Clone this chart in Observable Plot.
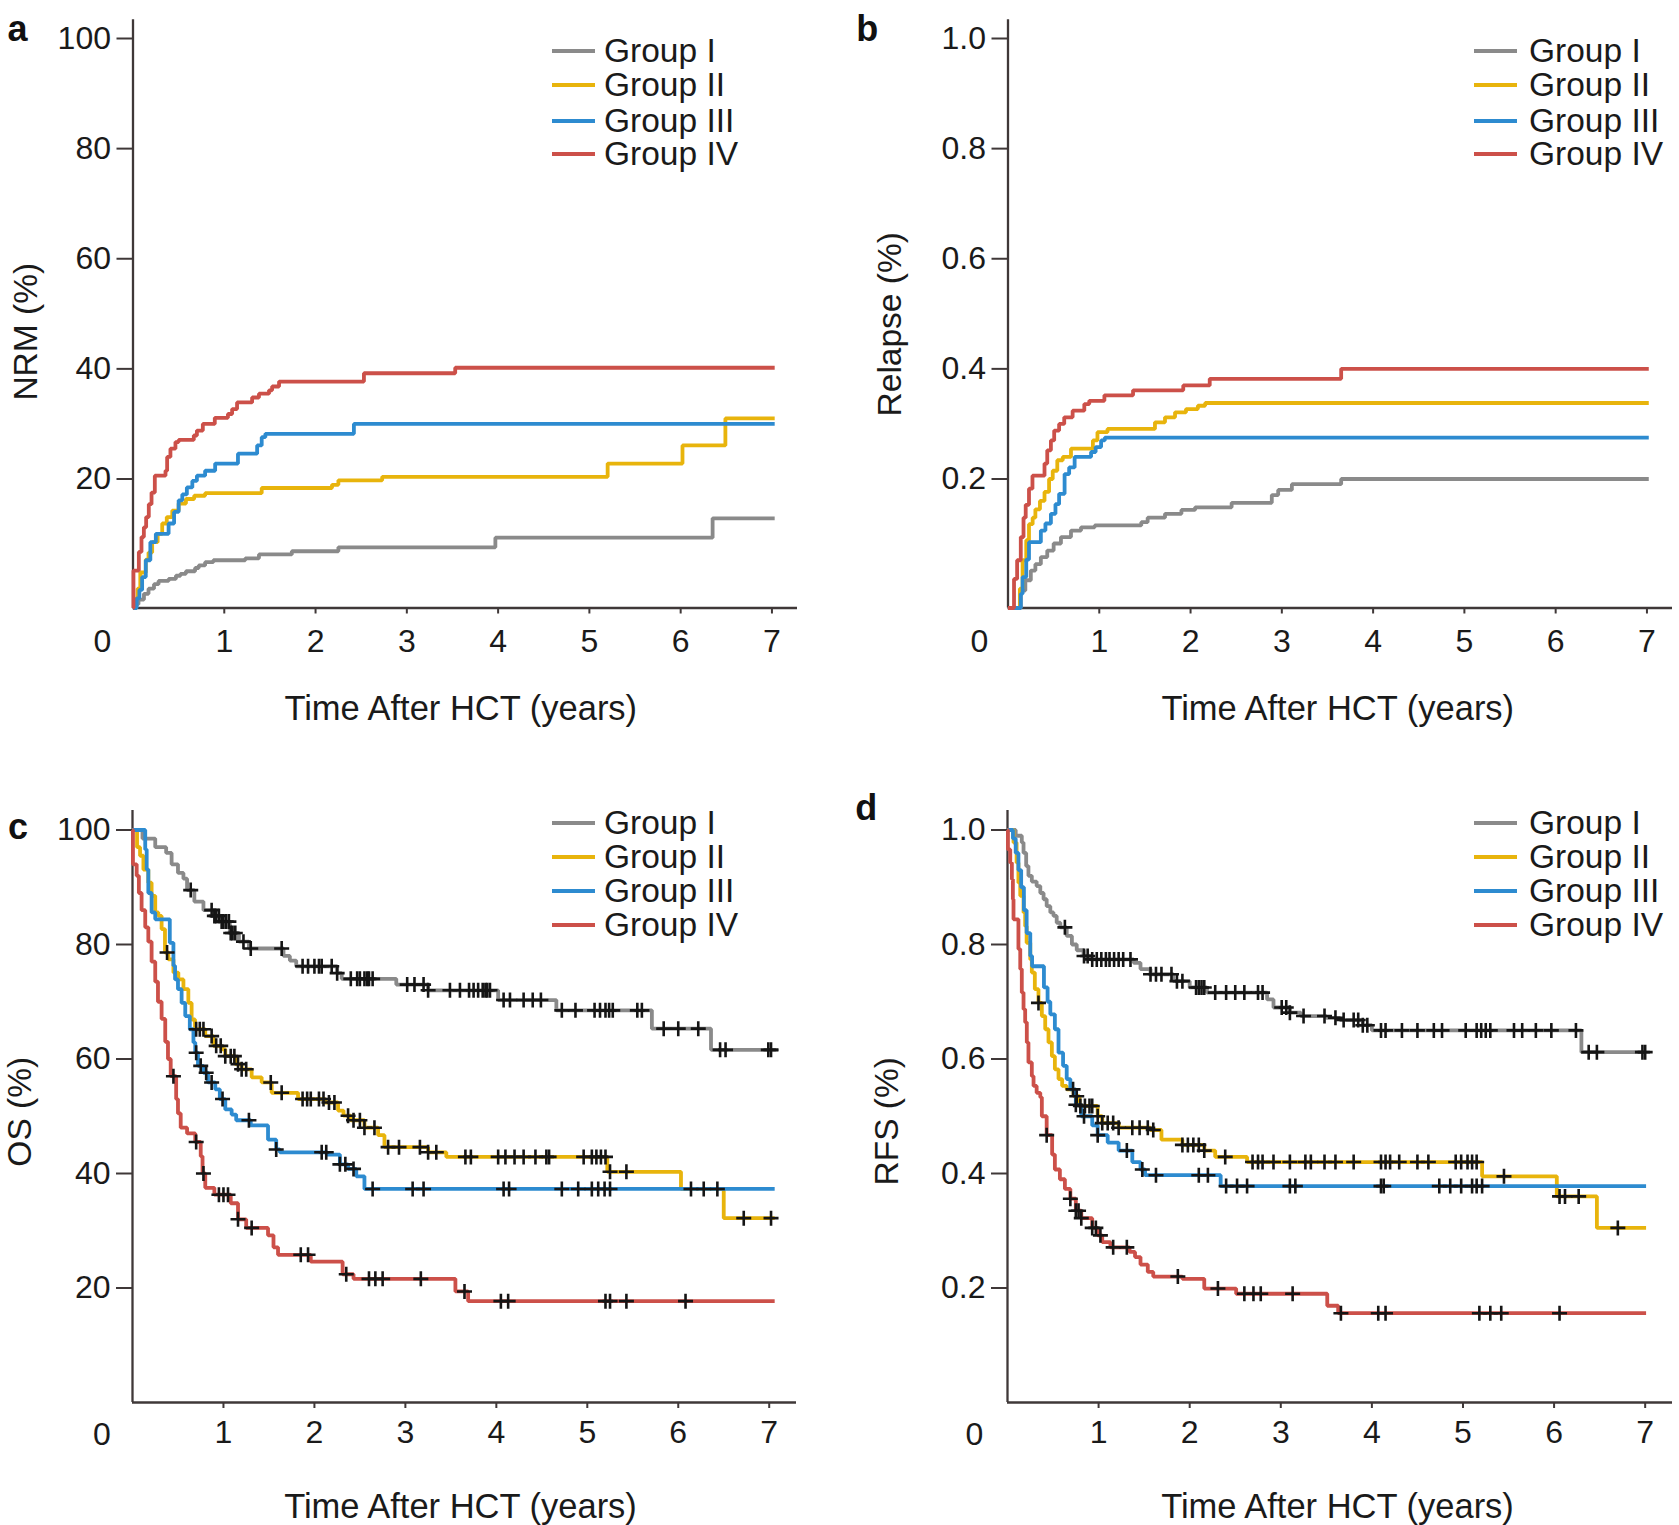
<!DOCTYPE html>
<html>
<head>
<meta charset="utf-8">
<script src="https://cdn.jsdelivr.net/npm/d3@7"></script>
<script src="https://cdn.jsdelivr.net/npm/@observablehq/plot@0.6"></script>
<style>
  html, body { margin: 0; padding: 0; background: #fff; }
  #fig { position: relative; width: 1679px; height: 1525px; font-family: "Liberation Sans", Arial, Helvetica, sans-serif; color: #1a1a1a; }
  .panel { position: absolute; }
  .panel svg { overflow: visible; }
  .sw { position: absolute; height: 4px; }
  .lt { position: absolute; font-size: 33.5px; line-height: 28px; height: 28px; white-space: nowrap; transform: translateY(-50%); }
</style>
</head>
<body>
<div id="fig"></div>
<script>
// ---------- categories, colours, ticks ----------
const groups = ["Group I", "Group II", "Group III", "Group IV"];
const groupColors = ["#8a8a8a", "#e8b40c", "#2d8bd0", "#cc5049"];
const timeTicks = [1, 2, 3, 4, 5, 6, 7];
const pctTicks = [20, 40, 60, 80, 100];
const fracTicks = [0.2, 0.4, 0.6, 0.8, 1.0];
const panelLetters = ["a", "b", "c", "d"];
const yTitles = ["NRM (%)", "Relapse (%)", "OS (%)", "RFS (%)"];
const xTitle = "Time After HCT (years)";

// ---------- (a) NRM, [years, %] ----------
const nrmI = [[0,0],[0.02,0.6],[0.06,1.3],[0.12,2.2],[0.17,3.0],[0.23,3.7],[0.28,4.2],[0.39,4.5],[0.47,5.0],[0.52,5.3],[0.58,5.7],[0.68,6.2],[0.72,6.6],[0.79,7.1],[0.88,7.4],[1.23,7.7],[1.38,8.3],[1.74,8.8],[2.25,9.4],[3.97,10.9],[6.35,13.9],[7.03,13.9]];
const nrmII = [[0,0],[0.03,1.5],[0.05,3],[0.08,5.5],[0.14,7.5],[0.17,8.6],[0.21,10.2],[0.27,11.5],[0.32,13.1],[0.37,14.1],[0.43,15.1],[0.5,16.2],[0.58,16.9],[0.67,17.4],[0.79,17.8],[1.41,18.6],[2.18,19.1],[2.25,19.8],[2.73,20.4],[5.2,22.8],[6.02,26.1],[6.49,31.0],[7.03,31.0]];
const nrmIII = [[0,0],[0.04,1.5],[0.07,2.8],[0.1,4.8],[0.14,7.4],[0.19,10.2],[0.25,11.5],[0.39,13.1],[0.45,14.9],[0.5,16.7],[0.54,17.6],[0.59,18.7],[0.65,19.7],[0.7,20.6],[0.79,21.5],[0.9,22.8],[1.15,24.6],[1.36,26.1],[1.41,27.6],[1.45,28.2],[2.42,30.0],[7.03,30.0]];
const nrmIV = [[0,0],[0.005,5.8],[0.064,8.7],[0.093,11.0],[0.119,12.5],[0.144,14.1],[0.173,16.1],[0.203,17.9],[0.239,20.6],[0.356,21.5],[0.374,24.0],[0.41,25.5],[0.465,26.7],[0.5,27.1],[0.666,27.9],[0.7,28.8],[0.765,30.0],[0.896,31.1],[1.04,31.8],[1.086,32.7],[1.14,33.9],[1.305,34.8],[1.38,35.5],[1.49,36.1],[1.524,36.8],[1.6,37.7],[2.53,39.2],[3.53,40.2],[7.03,40.2]];

// ---------- (b) Relapse, [years, fraction] ----------
const relI = [[0,0],[0.1,0],[0.14,0.027],[0.19,0.043],[0.25,0.058],[0.3,0.068],[0.36,0.079],[0.43,0.089],[0.5,0.1],[0.58,0.11],[0.69,0.12],[0.8,0.125],[0.95,0.128],[1.46,0.133],[1.53,0.14],[1.72,0.146],[1.9,0.152],[2.05,0.156],[2.45,0.163],[2.89,0.175],[2.96,0.183],[3.11,0.192],[3.65,0.2],[7.02,0.2]];
const relII = [[0,0],[0.12,0],[0.13,0.03],[0.16,0.074],[0.2,0.105],[0.23,0.13],[0.27,0.14],[0.3,0.153],[0.35,0.166],[0.4,0.18],[0.45,0.2],[0.49,0.215],[0.54,0.234],[0.6,0.24],[0.69,0.255],[0.93,0.27],[0.98,0.285],[1.09,0.291],[1.61,0.303],[1.72,0.312],[1.83,0.321],[1.95,0.327],[2.08,0.333],[2.16,0.338],[7.02,0.338]];
const relIII = [[0,0],[0.12,0],[0.14,0.022],[0.16,0.048],[0.2,0.075],[0.23,0.102],[0.36,0.12],[0.41,0.131],[0.47,0.146],[0.52,0.161],[0.56,0.177],[0.62,0.209],[0.67,0.221],[0.73,0.24],[0.91,0.249],[0.96,0.258],[1.02,0.27],[1.06,0.275],[7.02,0.275]];
const relIV = [[0,0],[0.06,0],[0.066,0.045],[0.1,0.074],[0.14,0.11],[0.17,0.14],[0.194,0.16],[0.23,0.185],[0.268,0.206],[0.4,0.228],[0.43,0.252],[0.47,0.27],[0.506,0.288],[0.56,0.3],[0.616,0.312],[0.708,0.324],[0.836,0.336],[0.89,0.342],[1.056,0.352],[1.37,0.361],[1.92,0.37],[2.21,0.382],[3.65,0.4],[7.02,0.4]];

// ---------- (c) OS, [years, %] ----------
const osI = [[0,100],[0.1,100],[0.11,98.5],[0.25,97],[0.37,96],[0.43,94],[0.5,92.5],[0.56,91.5],[0.6,89.5],[0.68,87.5],[0.78,86],[0.9,85],[0.96,84],[1.07,82],[1.17,80.5],[1.28,79.3],[1.66,78],[1.73,77.2],[1.8,76.2],[2.25,75],[2.3,74],[2.9,73],[3.25,72],[4.02,70.3],[4.66,68.5],[5.71,65.3],[6.36,61.6],[7.1,61.6]];
const osII = [[0,100],[0.046,100],[0.05,97],[0.083,95.5],[0.12,93.1],[0.174,90.8],[0.21,88.5],[0.25,85.6],[0.284,85.0],[0.32,82.7],[0.357,78.6],[0.394,77.4],[0.45,75.1],[0.504,73.9],[0.56,72.2],[0.614,69.8],[0.65,66.9],[0.687,65.2],[0.8,64.0],[0.89,62.3],[0.98,61.7],[1.02,60.5],[1.13,59.1],[1.2,58.2],[1.31,56.8],[1.42,55.9],[1.53,54.1],[1.82,53.0],[2.12,52.4],[2.26,51.0],[2.32,50.1],[2.4,49.3],[2.55,48.0],[2.7,46.7],[2.77,44.6],[3.25,43.7],[3.45,42.9],[5.22,40.3],[6.03,37.3],[6.5,32.2],[7.06,32.2]];
const osIII = [[0,100],[0.12,100],[0.14,96.6],[0.156,93.1],[0.174,89],[0.21,85.6],[0.25,84.4],[0.41,80.3],[0.45,76.3],[0.468,73.9],[0.5,72.2],[0.54,69.8],[0.58,67.5],[0.63,65.2],[0.67,62.9],[0.69,61.1],[0.72,58.8],[0.78,57.6],[0.83,55.9],[0.91,54.7],[0.96,53.0],[1.02,51.2],[1.09,50.3],[1.14,49.3],[1.3,48.4],[1.49,45.9],[1.58,44.2],[1.62,43.7],[2.14,43.3],[2.28,41.6],[2.37,40.8],[2.46,39.5],[2.55,37.3],[7.06,37.3]];
const osIV = [[0,100],[0.005,94],[0.046,92],[0.07,89],[0.1,86],[0.14,83],[0.174,80.5],[0.21,77],[0.25,73.5],[0.28,70],[0.32,67],[0.36,63],[0.39,60],[0.42,57],[0.48,53],[0.5,50.5],[0.53,48],[0.6,47],[0.69,45.5],[0.75,43],[0.77,40],[0.8,37.5],[0.9,36.3],[1.08,34.8],[1.16,32],[1.25,30.5],[1.49,29.2],[1.55,27.1],[1.6,25.8],[1.96,24.6],[2.31,22.4],[2.43,21.6],[3.55,19.4],[3.69,17.7],[7.06,17.7]];

// ---------- (d) RFS, [years, fraction] ----------
const rfsI = [[0,1],[0.084,1],[0.09,0.99],[0.157,0.978],[0.176,0.96],[0.205,0.937],[0.23,0.92],[0.267,0.91],[0.32,0.902],[0.36,0.89],[0.396,0.879],[0.43,0.867],[0.47,0.856],[0.505,0.85],[0.54,0.838],[0.58,0.83],[0.65,0.815],[0.707,0.8],[0.76,0.79],[0.835,0.78],[0.91,0.774],[1.385,0.768],[1.46,0.757],[1.57,0.748],[1.82,0.736],[2.0,0.725],[2.19,0.716],[2.85,0.704],[2.92,0.69],[3.1,0.681],[3.22,0.675],[3.5,0.672],[3.65,0.668],[3.9,0.659],[4.0,0.65],[6.3,0.612],[7.01,0.612]];
const rfsII = [[0,1],[0.04,1],[0.066,0.978],[0.1,0.943],[0.12,0.908],[0.14,0.885],[0.176,0.856],[0.194,0.832],[0.21,0.803],[0.25,0.774],[0.267,0.751],[0.3,0.722],[0.34,0.698],[0.377,0.675],[0.414,0.652],[0.45,0.629],[0.487,0.605],[0.52,0.582],[0.56,0.565],[0.6,0.553],[0.65,0.547],[0.725,0.535],[0.79,0.518],[0.99,0.5],[1.04,0.488],[1.22,0.48],[1.57,0.476],[1.69,0.459],[1.92,0.45],[2.16,0.44],[2.28,0.429],[2.63,0.42],[5.21,0.395],[6.03,0.36],[6.47,0.305],[7.01,0.305]];
const rfsIII = [[0,1],[0.05,1],[0.06,0.985],[0.09,0.96],[0.12,0.93],[0.15,0.9],[0.18,0.86],[0.21,0.82],[0.25,0.78],[0.27,0.762],[0.4,0.725],[0.44,0.7],[0.47,0.678],[0.52,0.652],[0.56,0.611],[0.61,0.588],[0.65,0.565],[0.69,0.547],[0.75,0.52],[0.81,0.5],[0.93,0.484],[0.99,0.467],[1.1,0.454],[1.22,0.44],[1.37,0.42],[1.46,0.407],[1.51,0.397],[2.34,0.378],[7.01,0.378]];
const rfsIV = [[0,1],[0.005,0.966],[0.03,0.943],[0.048,0.914],[0.059,0.879],[0.066,0.844],[0.12,0.792],[0.14,0.757],[0.157,0.716],[0.176,0.687],[0.194,0.664],[0.212,0.629],[0.23,0.594],[0.267,0.57],[0.286,0.553],[0.32,0.541],[0.36,0.533],[0.377,0.5],[0.43,0.467],[0.49,0.433],[0.52,0.407],[0.575,0.39],[0.63,0.373],[0.69,0.356],[0.75,0.335],[0.81,0.322],[0.93,0.305],[0.99,0.292],[1.04,0.28],[1.13,0.271],[1.34,0.263],[1.4,0.254],[1.46,0.241],[1.54,0.228],[1.6,0.22],[1.92,0.216],[2.16,0.199],[2.51,0.19],[3.51,0.169],[3.63,0.156],[7.01,0.156]];

// ---------- censoring times (years); marks sit on the step curve ----------
const osCensorI = [0.64,0.87,0.9,0.92,0.95,0.98,1.0,1.03,1.06,1.08,1.1,1.13,1.22,1.3,1.64,1.87,1.93,2.0,2.05,2.08,2.19,2.25,2.4,2.47,2.5,2.55,2.58,2.6,2.64,3.02,3.1,3.2,3.25,3.49,3.6,3.7,3.75,3.8,3.85,3.88,3.9,3.93,4.08,4.15,4.3,4.4,4.49,4.72,4.87,5.08,5.14,5.2,5.24,5.28,5.55,5.6,5.84,6.0,6.22,6.46,6.52,6.99,7.02];
const osCensorII = [0.38,0.7,0.74,0.78,0.87,0.92,0.97,1.02,1.08,1.12,1.16,1.2,1.25,1.52,1.64,1.87,1.92,1.96,2.05,2.1,2.16,2.22,2.37,2.43,2.5,2.55,2.66,2.81,2.93,3.16,3.25,3.34,3.66,3.72,4.02,4.1,4.2,4.3,4.43,4.55,4.58,4.96,5.05,5.1,5.15,5.2,5.25,5.43,6.14,6.28,6.43,6.72,7.02];
const osCensorIII = [0.7,0.75,0.81,0.87,0.99,1.28,1.58,2.08,2.13,2.28,2.34,2.43,2.64,3.08,3.2,4.08,4.14,4.72,4.9,5.05,5.12,5.19,5.25];
const osCensorIV = [0.45,0.7,0.78,0.95,1.0,1.05,1.16,1.31,1.85,1.93,2.35,2.6,2.67,2.75,3.17,3.65,4.05,4.13,5.2,5.25,5.43,6.08];
const rfsCensorI = [0.63,0.84,0.88,0.93,0.98,1.03,1.08,1.12,1.17,1.22,1.27,1.35,1.57,1.63,1.69,1.8,1.86,1.92,2.07,2.1,2.13,2.16,2.28,2.4,2.5,2.6,2.75,2.8,3.01,3.06,3.1,3.25,3.48,3.6,3.69,3.8,3.85,3.9,3.95,4.1,4.15,4.33,4.5,4.68,4.77,5.03,5.15,5.2,5.25,5.3,5.56,5.65,5.8,5.97,6.24,6.38,6.47,6.97,7.0];
const rfsCensorII = [0.34,0.72,0.76,0.8,0.85,0.9,0.93,0.99,1.04,1.1,1.16,1.22,1.37,1.45,1.54,1.6,1.92,1.98,2.04,2.1,2.16,2.39,2.69,2.75,2.8,2.92,3.1,3.27,3.33,3.48,3.6,3.8,4.1,4.15,4.2,4.3,4.5,4.62,4.92,4.98,5.05,5.1,5.15,5.45,6.06,6.12,6.27,6.7];
const rfsCensorIII = [0.75,0.84,0.99,1.31,1.48,1.63,2.1,2.2,2.4,2.52,2.63,3.1,3.16,4.1,4.13,4.74,4.86,4.98,5.1,5.15,5.21];
const rfsCensorIV = [0.43,0.69,0.75,0.78,0.81,0.93,0.97,1.02,1.16,1.31,1.87,2.31,2.6,2.7,2.78,3.13,3.66,4.07,4.15,5.18,5.3,5.42,6.06];

// ---------- helpers ----------
function stepValue(curve, t) {
  let v = curve[0][1];
  for (const [ti, vi] of curve) { if (ti <= t) v = vi; else break; }
  return v;
}
const thinPlus = {
  draw(context, size) {
    const r = Math.sqrt(size / Math.PI);
    context.moveTo(-r, 0); context.lineTo(r, 0);
    context.moveTo(0, -r); context.lineTo(0, r);
  }
};
const axisColor = "#3f3838";
// In panels a and b the printed axis gives the 0–20 interval more room than the
// 20–100 intervals (factor ≈ 1.17); reproduce that with a scale transform.
const lowStretch = 1.1715;

const panels = [
  { left: 0,   top: 0,   width: 840, height: 765, mL: 132.5, mR: 43, mT: 38,   mB: 157.5, xMax: 7.28, tickPad: 15,
    frac: false, stretched: true, curves: [nrmI, nrmII, nrmIII, nrmIV], censors: null,
    letterD: [-115.5, -8.6], yTitleD: [-106.5, 8.5], xTitleD: [-4.5, 100.5], zeroD: [-30.5, 34],
    legX: 552, legTextX: 604, legY: [51, 85, 120.5, 154] },
  { left: 840, top: 0,   width: 839, height: 765, mL: 167.5, mR: 7, mT: 38,   mB: 157.5, xMax: 7.28, tickPad: 15,
    frac: true, stretched: true, curves: [relI, relII, relIII, relIV], censors: null,
    letterD: [-140.8, -8.6], yTitleD: [-118, 1], xTitleD: [-2.5, 100.5], zeroD: [-28.5, 34],
    legX: 634, legTextX: 689, legY: [51, 85, 120.5, 154] },
  { left: 0,   top: 765, width: 840, height: 760, mL: 132, mR: 44, mT: 64.5, mB: 123, xMax: 7.3, tickPad: 12,
    frac: false, stretched: false, curves: [osI, osII, osIII, osIV], censors: [osCensorI, osCensorII, osCensorIII, osCensorIV],
    letterD: [-114.5, -2.5], yTitleD: [-112, -4.5], xTitleD: [-4, 104.5], zeroD: [-30.5, 32],
    legX: 552, legTextX: 604, legY: [57.5, 91.5, 126, 159.5] },
  { left: 840, top: 765, width: 839, height: 760, mL: 167, mR: 7, mT: 64.5, mB: 123, xMax: 7.3, tickPad: 12,
    frac: true, stretched: false, curves: [rfsI, rfsII, rfsIII, rfsIV], censors: [rfsCensorI, rfsCensorII, rfsCensorIII, rfsCensorIV],
    letterD: [-141.3, -22], yTitleD: [-120, 5], xTitleD: [-2.5, 104.5], zeroD: [-33, 32],
    legX: 634, legTextX: 689, legY: [57.5, 91.5, 126, 159.5] }
];

const fig = document.getElementById("fig");

panels.forEach((p, idx) => {
  const k = p.frac ? 0.01 : 1;          // value of one percent on this panel's axis
  const top = 100 * k;
  const lineData = p.curves.flatMap((c, i) => c.map(([t, v]) => ({ t, v, g: groups[i] })));
  const censorData = p.censors
    ? p.censors.flatMap((ts, i) => ts.map(t => ({ t, v: stepValue(p.curves[i], t), g: groups[i] })))
    : [];

  let yScale;
  if (p.stretched) {
    const knee = 20 * k;
    const tf = v => (v < knee ? knee + (v - knee) * lowStretch : v);
    yScale = { type: "linear", domain: [tf(0), top], transform: tf };
  } else {
    yScale = { type: "linear", domain: [0, top] };
  }

  const svg = Plot.plot({
    width: p.width,
    height: p.height,
    marginLeft: p.mL, marginRight: p.mR, marginTop: p.mT, marginBottom: p.mB,
    x: { domain: [0, p.xMax] },
    y: yScale,
    color: { domain: groups, range: groupColors },
    style: { fontFamily: '"Liberation Sans", Arial, Helvetica, sans-serif', fontSize: "32px", color: "#1a1a1a", background: "transparent", overflow: "visible" },
    marks: [
      Plot.ruleX([0], { y1: 0, y2: 1.034 * top, stroke: axisColor, strokeWidth: 2.3 }),
      Plot.ruleY([0], { x1: 0, x2: p.xMax, stroke: axisColor, strokeWidth: 2.3 }),
      Plot.axisY({ ticks: (p.frac ? fracTicks : pctTicks), tickFormat: p.frac ? d3.format(".1f") : d3.format("d"),
                   tickSize: 16, tickPadding: 6, fontSize: 32, label: null, stroke: axisColor, strokeWidth: 2, fill: "#1a1a1a" }),
      Plot.axisX({ ticks: timeTicks, tickSize: 6, tickPadding: p.tickPad, fontSize: 32, label: null, stroke: axisColor, strokeWidth: 2, fill: "#1a1a1a" }),
      Plot.text(["0"], { x: () => 0, y: () => 0, text: d => d, dx: p.zeroD[0], dy: p.zeroD[1], fontSize: 32, fill: "#1a1a1a" }),
      Plot.line(lineData, { x: "t", y: "v", z: "g", stroke: "g", curve: "step-after", strokeWidth: 3.8, strokeLinejoin: "miter", strokeLinecap: "butt" }),
      Plot.dot(censorData, { x: "t", y: "v", symbol: thinPlus, r: 7.5, stroke: "#151515", fill: "none", strokeWidth: 2.6 }),
      Plot.text([panelLetters[idx]], { frameAnchor: "top-left", text: d => d, dx: p.letterD[0], dy: p.letterD[1],
                   fontSize: 36, fontWeight: "bold", textAnchor: "middle", lineAnchor: "middle", fill: "#111" }),
      Plot.text([yTitles[idx]], { frameAnchor: "left", text: d => d, rotate: -90, dx: p.yTitleD[0], dy: p.yTitleD[1],
                   fontSize: 33.5, textAnchor: "middle", lineAnchor: "middle", fill: "#1a1a1a" }),
      Plot.text([xTitle], { frameAnchor: "bottom", text: d => d, dx: p.xTitleD[0], dy: p.xTitleD[1],
                   fontSize: 34.5, textAnchor: "middle", lineAnchor: "middle", fill: "#1a1a1a" })
    ]
  });

  const holder = document.createElement("div");
  holder.className = "panel";
  holder.style.left = p.left + "px";
  holder.style.top = p.top + "px";
  holder.style.width = p.width + "px";
  holder.style.height = p.height + "px";
  holder.appendChild(svg);

  groups.forEach((g, i) => {
    const sw = document.createElement("div");
    sw.className = "sw";
    sw.style.left = p.legX + "px";
    sw.style.width = "43px";
    sw.style.top = (p.legY[i] - 2) + "px";
    sw.style.background = groupColors[i];
    holder.appendChild(sw);
    const lt = document.createElement("div");
    lt.className = "lt";
    lt.style.left = p.legTextX + "px";
    lt.style.top = p.legY[i] + "px";
    lt.textContent = g;
    holder.appendChild(lt);
  });

  fig.appendChild(holder);
});
</script>
</body>
</html>
